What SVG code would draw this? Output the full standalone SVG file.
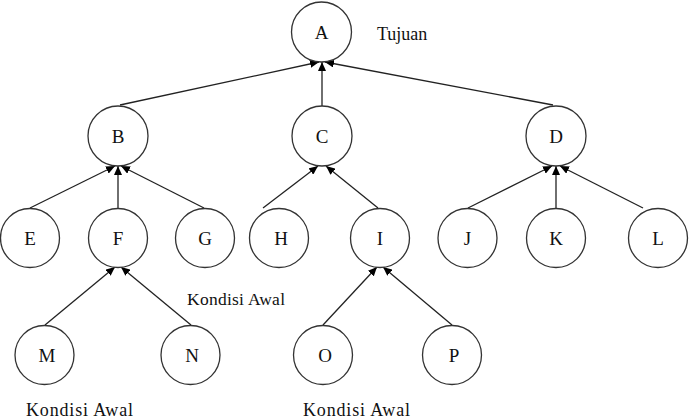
<svg xmlns="http://www.w3.org/2000/svg" width="690" height="420" viewBox="0 0 690 420" font-family="'Liberation Serif', 'DejaVu Serif', serif">
<style>
.n circle{fill:#fff;stroke:#333;stroke-width:1.3}
.n text{font-size:19px;fill:#111;text-anchor:middle}
.e line{stroke:#222;stroke-width:1.3;marker-end:url(#ah)}
.lbl{fill:#111}
</style>
<defs>
<marker id="ah" markerUnits="userSpaceOnUse" markerWidth="10" markerHeight="8" refX="9" refY="4" orient="auto">
<path d="M0,0 L9,4 L0,8 z" fill="#000"/>
</marker>
</defs>
<rect width="690" height="420" fill="#fff"/>
<g id="connectors" class="e">
<line x1="120" y1="105" x2="319" y2="62"/>
<line x1="322" y1="106" x2="322" y2="62"/>
<line x1="553" y1="105" x2="325" y2="62"/>
<line x1="30" y1="208" x2="115" y2="166"/>
<line x1="118" y1="208" x2="118" y2="166"/>
<line x1="204" y1="208" x2="121" y2="166"/>
<line x1="263" y1="208" x2="318" y2="166"/>
<line x1="378" y1="208" x2="326" y2="166"/>
<line x1="468" y1="208" x2="552" y2="166"/>
<line x1="556" y1="208" x2="556" y2="166"/>
<line x1="643" y1="208" x2="560" y2="166"/>
<line x1="45" y1="325" x2="115" y2="267"/>
<line x1="191" y1="325" x2="121" y2="267"/>
<line x1="323" y1="325" x2="377" y2="267"/>
<line x1="452" y1="325" x2="383" y2="267"/>
</g>
<g id="A" class="n"><circle cx="321.5" cy="32" r="30"/><text x="321.5" y="39">A</text></g>
<g id="B" class="n"><circle cx="118" cy="136" r="30"/><text x="118" y="143">B</text></g>
<g id="C" class="n"><circle cx="322" cy="136" r="30"/><text x="322" y="143">C</text></g>
<g id="D" class="n"><circle cx="556" cy="136" r="30"/><text x="556" y="143">D</text></g>
<g id="E" class="n"><circle cx="30" cy="238" r="29.5"/><text x="30" y="245">E</text></g>
<g id="F" class="n"><circle cx="118" cy="238" r="29.5"/><text x="118" y="245">F</text></g>
<g id="G" class="n"><circle cx="205" cy="238" r="29.5"/><text x="205" y="245">G</text></g>
<g id="H" class="n"><circle cx="279" cy="238" r="29.5"/><text x="281" y="245">H</text></g>
<g id="I" class="n"><circle cx="380" cy="238" r="29.5"/><text x="380" y="245">I</text></g>
<g id="J" class="n"><circle cx="467.5" cy="238" r="29.5"/><text x="467.5" y="245">J</text></g>
<g id="K" class="n"><circle cx="556" cy="238" r="29.5"/><text x="556" y="245">K</text></g>
<g id="L" class="n"><circle cx="658" cy="238" r="29.5"/><text x="658" y="245">L</text></g>
<g id="M" class="n"><circle cx="44.5" cy="355" r="29.5"/><text x="47" y="362">M</text></g>
<g id="N" class="n"><circle cx="190.5" cy="355" r="29.5"/><text x="192" y="362">N</text></g>
<g id="O" class="n"><circle cx="323" cy="355" r="29.5"/><text x="325" y="362">O</text></g>
<g id="P" class="n"><circle cx="452" cy="355" r="29.5"/><text x="454" y="362">P</text></g>
<g id="labels">
<text class="lbl" x="377" y="40" font-size="18">Tujuan</text>
<text class="lbl" x="187" y="305" font-size="17.5" textLength="98" lengthAdjust="spacing">Kondisi Awal</text>
<text class="lbl" x="26" y="416" font-size="18" textLength="107" lengthAdjust="spacing">Kondisi Awal</text>
<text class="lbl" x="303" y="416" font-size="18" textLength="107" lengthAdjust="spacing">Kondisi Awal</text>
</g>
</svg>
